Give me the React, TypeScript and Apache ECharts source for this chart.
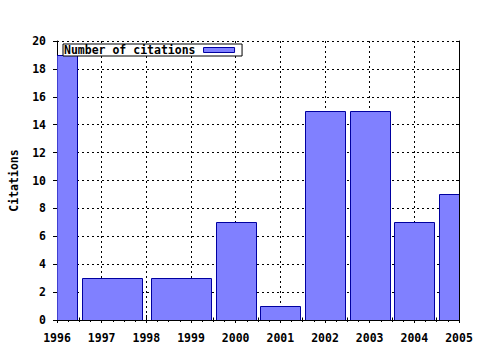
import React, { useEffect, useRef } from "react";
import * as echarts from "echarts";

const years = [1996, 1997, 1999, 2000, 2001, 2002, 2003, 2004, 2005];
const citations = [19, 3, 3, 7, 1, 15, 15, 7, 9];
const seriesName = "Number of citations";
const yAxisName = "Citations";

const FONT = "'DejaVu Sans Mono', 'Liberation Mono', monospace";
const FILL = "#8080ff";
const EDGE = "#0000a0";

// gnuplot-style "boxes": each box reaches 0.9 of the way to the midpoint with its neighbours
function boxes() {
  return years.map((x, i) => {
    const prev = i > 0 ? years[i - 1] : null;
    const next = i < years.length - 1 ? years[i + 1] : null;
    const dl = prev !== null ? (x - prev) / 2 : (next! - x) / 2;
    const dr = next !== null ? (next - x) / 2 : (x - prev!) / 2;
    return [x - dl * 0.9, x + dr * 0.9, citations[i]];
  });
}

export default function App() {
  const ref = useRef<HTMLDivElement>(null);
  useEffect(() => {
    if (!ref.current) return;
    const chart = echarts.init(ref.current, null, { renderer: "svg" });
    const labelStyle = { fontFamily: FONT, fontWeight: "bold" as const, fontSize: 11.5, color: "#000" };
    chart.setOption({
      animation: false,
      backgroundColor: "#fff",
      grid: { left: 57, right: 21, top: 41, bottom: 30, containLabel: false, outerBoundsMode: "none" },
      legend: {
        show: true,
        left: 63,
        top: 44,
        align: "right",
        icon: "rect",
        itemWidth: 31,
        itemHeight: 5,
        backgroundColor: "#fff",
        borderColor: "#000",
        borderWidth: 1,
        borderRadius: 0,
        padding: [0, 7, 0, 0],
        textStyle: { ...labelStyle, lineHeight: 12, padding: [0, 3, 0, 1] },
        itemStyle: { color: FILL, borderColor: EDGE, borderWidth: 1 },
        data: [seriesName],
      },
      xAxis: [
        {
          type: "value",
          min: 1996,
          max: 2005,
          interval: 1,
          position: "bottom",
          axisLine: { show: true, lineStyle: { color: "#000", width: 1 } },
          axisTick: { show: true, inside: false, length: 3, lineStyle: { color: "#000" } },
          minorTick: { show: true, splitNumber: 4, length: 2, lineStyle: { color: "#000" } },
          axisLabel: { ...labelStyle, margin: 12, formatter: (v: number) => String(v) },
          splitLine: { show: true, lineStyle: { color: "#000", type: [2, 3], width: 1 } },
        },
        {
          type: "value",
          min: 1996,
          max: 2005,
          interval: 1,
          position: "top",
          axisLine: { show: true, lineStyle: { color: "#000", width: 1 } },
          axisTick: { show: true, inside: false, length: 5, lineStyle: { color: "#000" } },
          minorTick: { show: true, splitNumber: 4, length: 2.5, lineStyle: { color: "#000" } },
          axisLabel: { show: false },
          splitLine: { show: false },
        },
      ],
      yAxis: [
        {
          type: "value",
          min: 0,
          max: 20,
          interval: 2,
          position: "left",
          name: yAxisName,
          nameLocation: "middle",
          nameGap: 37,
          nameRotate: 90,
          nameTextStyle: { ...labelStyle },
          axisLine: { show: true, lineStyle: { color: "#000", width: 1 } },
          axisTick: { show: true, inside: false, length: 4, lineStyle: { color: "#000" } },
          axisLabel: { ...labelStyle, margin: 11 },
          splitLine: { show: true, lineStyle: { color: "#000", type: [2, 3], width: 1 } },
        },
        {
          type: "value",
          min: 0,
          max: 20,
          interval: 2,
          position: "right",
          axisLine: { show: true, lineStyle: { color: "#000", width: 1 } },
          axisTick: { show: true, inside: true, length: 3, lineStyle: { color: "#000" } },
          axisLabel: { show: false },
          splitLine: { show: false },
        },
      ],
      series: [
        {
          name: seriesName,
          type: "custom",
          xAxisIndex: 0,
          yAxisIndex: 0,
          clip: true,
          data: boxes(),
          encode: { x: [0, 1], y: 2 },
          renderItem: (params: any, api: any) => {
            const p0 = api.coord([api.value(0), api.value(2)]);
            const p1 = api.coord([api.value(1), 0]);
            const cs = params.coordSys;
            const rect = echarts.graphic.clipRectByRect(
              {
                x: Math.round(p0[0]) + 0.5,
                y: Math.round(p0[1]) + 0.5,
                width: Math.round(p1[0]) - Math.round(p0[0]),
                height: Math.round(p1[1]) - Math.round(p0[1]),
              },
              { x: cs.x, y: cs.y, width: cs.width + 0.5, height: cs.height + 0.5 }
            );
            if (!rect) return null;
            return {
              type: "rect",
              shape: rect,
              style: { fill: FILL, stroke: EDGE, lineWidth: 1 },
            };
          },
        },
      ],
    });
    return () => chart.dispose();
  }, []);
  return (
    <div
      ref={ref}
      style={{ position: "fixed", left: 0, top: 0, width: 480, height: 350, background: "#fff" }}
    />
  );
}
